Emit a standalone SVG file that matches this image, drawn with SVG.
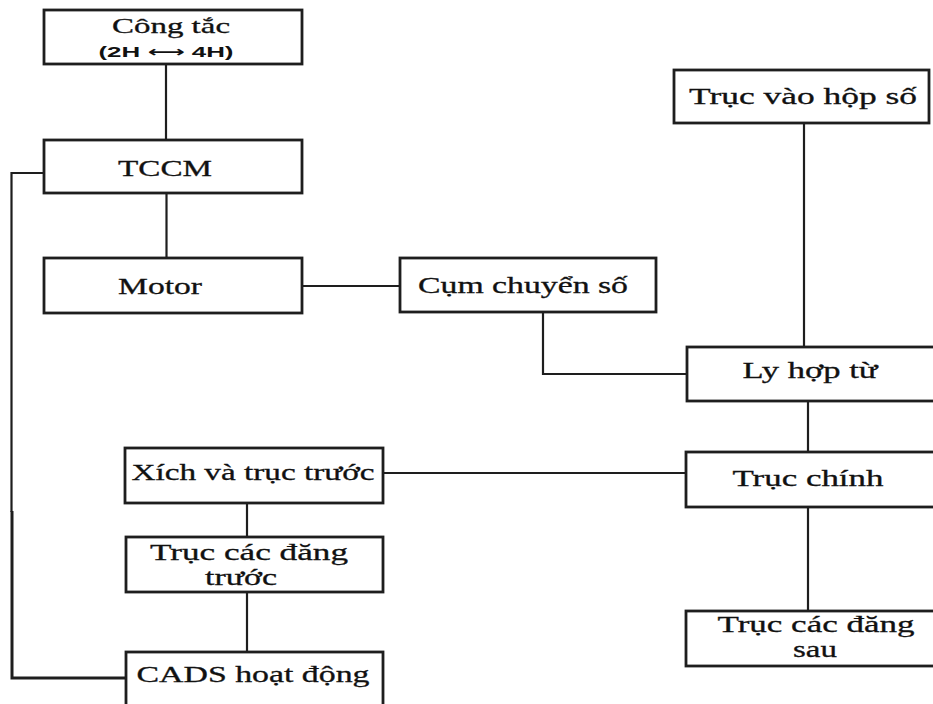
<svg xmlns="http://www.w3.org/2000/svg" width="933" height="704" viewBox="0 0 933 704">
<style>
.box{fill:#fff;stroke:#1e1e1e;stroke-width:2.8}
.t{font-family:"Liberation Serif","Times New Roman",serif;font-size:23px;fill:#111;stroke:#111;stroke-width:0.3;text-anchor:middle}
.s{font-family:"Liberation Sans",Arial,"DejaVu Sans",sans-serif;font-size:15px;font-weight:bold;fill:#111;text-anchor:middle}
.c{fill:none;stroke:#1e1e1e;stroke-width:2.2}
</style>
<rect width="933" height="704" fill="#fff"/>
<g id="connectors">
<line class="c" x1="166" y1="64" x2="166" y2="140"/>
<line class="c" x1="166.5" y1="193" x2="166.5" y2="258"/>
<line class="c" x1="302" y1="286" x2="400" y2="286"/>
<polyline class="c" points="543,312 543,374 687,374"/>
<line class="c" x1="804" y1="123" x2="804" y2="347"/>
<line class="c" x1="808" y1="401" x2="808" y2="452"/>
<line class="c" x1="383" y1="473" x2="686" y2="473"/>
<line class="c" x1="808" y1="507" x2="808" y2="611"/>
<line class="c" x1="247" y1="503" x2="247" y2="537"/>
<line class="c" x1="247" y1="592" x2="247" y2="652"/>
<polyline class="c" points="44,173 11.5,173 11.5,512"/>
<polyline class="c" style="stroke-width:3" points="12,511 12,678 126,678"/>
</g>
<g id="cong-tac">
<rect class="box" x="44" y="10" width="258" height="54"/>
<text class="t" x="171" y="33" style="font-size:21px" textLength="118" lengthAdjust="spacingAndGlyphs">Công tắc</text>
<text class="s" x="166" y="57" textLength="135" lengthAdjust="spacingAndGlyphs">(2H ⟷ 4H)</text>
</g>
<g id="tccm">
<rect class="box" x="44" y="140" width="258" height="53"/>
<text class="t" x="165" y="176" textLength="94" lengthAdjust="spacingAndGlyphs">TCCM</text>
</g>
<g id="motor">
<rect class="box" x="44" y="258" width="258" height="55"/>
<text class="t" x="160" y="294" textLength="84" lengthAdjust="spacingAndGlyphs">Motor</text>
</g>
<g id="cum-chuyen-so">
<rect class="box" x="400" y="258" width="256" height="54"/>
<text class="t" x="523" y="293" textLength="210" lengthAdjust="spacingAndGlyphs">Cụm chuyển số</text>
</g>
<g id="truc-vao-hop-so">
<rect class="box" x="674" y="70" width="255" height="53"/>
<text class="t" x="803" y="104" textLength="228" lengthAdjust="spacingAndGlyphs">Trục vào hộp số</text>
</g>
<g id="ly-hop-tu">
<rect class="box" x="687" y="347" width="260" height="54"/>
<text class="t" x="810" y="378" textLength="135" lengthAdjust="spacingAndGlyphs">Ly hợp từ</text>
</g>
<g id="truc-chinh">
<rect class="box" x="686" y="452" width="260" height="55"/>
<text class="t" x="808" y="486" textLength="151" lengthAdjust="spacingAndGlyphs">Trục chính</text>
</g>
<g id="truc-cac-dang-sau">
<rect class="box" x="686" y="611" width="260" height="55"/>
<text class="t" x="816" y="632" textLength="197" lengthAdjust="spacingAndGlyphs">Trục các đăng</text>
<text class="t" x="815" y="657" textLength="44" lengthAdjust="spacingAndGlyphs">sau</text>
</g>
<g id="xich-va-truc-truoc">
<rect class="box" x="125" y="448" width="258" height="55"/>
<text class="t" x="253" y="480" textLength="243" lengthAdjust="spacingAndGlyphs">Xích và trục trước</text>
</g>
<g id="truc-cac-dang-truoc">
<rect class="box" x="126" y="537" width="257" height="55"/>
<text class="t" x="249" y="560" textLength="198" lengthAdjust="spacingAndGlyphs">Trục các đăng</text>
<text class="t" x="241" y="585" textLength="72" lengthAdjust="spacingAndGlyphs">trước</text>
</g>
<g id="cads-hoat-dong">
<rect class="box" x="126" y="652" width="257" height="60"/>
<text class="t" x="253" y="682" textLength="233" lengthAdjust="spacingAndGlyphs">CADS hoạt động</text>
</g>
</svg>
